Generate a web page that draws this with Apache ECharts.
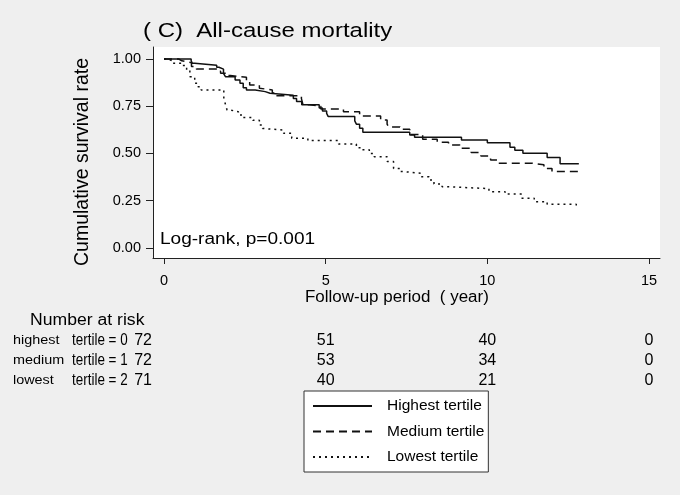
<!DOCTYPE html>
<html>
<head>
<meta charset="utf-8">
<script src="https://cdn.jsdelivr.net/npm/echarts@6/dist/echarts.min.js"></script>
<style>
html,body{margin:0;padding:0;background:#efefef;}
#chart{width:680px;height:495px;}
</style>
</head>
<body>
<div id="chart"></div>
<script>
// ---- data ----
var seriesNames = ['Highest tertile', 'Medium tertile', 'Lowest tertile'];
var highest = [[0,1.0],[0.84,0.989],[0.88,0.977],[0.95,0.967],[1.63,0.956],[1.7,0.946],[1.84,0.924],[1.9,0.906],[2.2,0.889],[2.35,0.871],[2.45,0.848],[2.55,0.836],[2.82,0.827],[3.13,0.818],[3.28,0.808],[4.0,0.79],[4.1,0.775],[4.26,0.757],[4.8,0.74],[4.9,0.725],[5.03,0.712],[5.08,0.695],[5.9,0.672],[5.95,0.655],[6.05,0.633],[6.15,0.612],[7.6,0.598],[7.75,0.586],[9.2,0.571],[10.0,0.557],[10.7,0.533],[10.85,0.517],[11.1,0.501],[11.85,0.478],[12.25,0.446],[12.83,0.446]];
var medium = [[0,1.0],[0.45,0.99],[0.55,0.98],[0.85,0.96],[1.0,0.946],[1.65,0.935],[1.75,0.924],[1.95,0.912],[2.05,0.903],[2.55,0.885],[2.65,0.862],[2.95,0.845],[3.0,0.836],[3.35,0.82],[3.45,0.805],[4.25,0.79],[4.3,0.757],[4.5,0.75],[4.85,0.735],[5.55,0.72],[6.05,0.698],[6.7,0.677],[6.9,0.655],[6.95,0.64],[7.3,0.628],[7.6,0.6],[8.0,0.575],[8.45,0.559],[8.8,0.545],[9.15,0.527],[9.5,0.505],[9.8,0.487],[10.1,0.465],[10.35,0.448],[11.4,0.44],[11.75,0.42],[12.0,0.404],[12.83,0.404]];
var lowest = [[0,1.0],[0.12,0.99],[0.25,0.977],[0.55,0.965],[0.7,0.94],[0.8,0.906],[0.95,0.871],[1.05,0.853],[1.15,0.836],[1.85,0.79],[1.9,0.76],[1.95,0.73],[2.05,0.72],[2.3,0.704],[2.45,0.69],[2.75,0.675],[2.95,0.65],[3.05,0.632],[3.1,0.624],[3.7,0.607],[3.95,0.58],[4.45,0.568],[5.4,0.55],[5.95,0.53],[6.1,0.519],[6.35,0.5],[6.5,0.483],[6.9,0.457],[7.1,0.42],[7.3,0.404],[7.4,0.395],[7.95,0.377],[8.2,0.36],[8.35,0.339],[8.6,0.324],[8.75,0.314],[10.05,0.298],[10.55,0.285],[11.05,0.263],[11.45,0.245],[11.85,0.231],[12.75,0.219],[12.83,0.219]];
var xTicks = [0, 5, 10, 15];
var yTicks = [0, 0.25, 0.5, 0.75, 1.0];
var riskTimes = [0, 5, 10, 15];
var riskRowLabels = ['highest', 'medium', 'lowest'];
var riskRowGroups = ['tertile = 0', 'tertile = 1', 'tertile = 2'];
var riskHighest = [72, 51, 40, 0];
var riskMedium = [72, 53, 34, 0];
var riskLowest = [71, 40, 21, 0];

var FONT = "'Liberation Sans', Arial, Helvetica, sans-serif";
var chart = echarts.init(document.getElementById('chart'), null, {renderer: 'canvas'});

function lineSeries(name, data, type) {
  return {
    name: name, type: 'line', step: 'end', data: data,
    symbol: 'none', showSymbol: false, silent: true, animation: false,
    itemStyle: {color: '#111'},
    lineStyle: {color: '#111', width: 1.5, type: type}
  };
}

var option = {
  backgroundColor: '#efefef',
  animation: false,
  grid: {left: 153, right: 20, top: 47, bottom: 237, show: true, backgroundColor: '#ffffff', borderWidth: 0, containLabel: false, outerBoundsMode: 'none'},
  xAxis: {
    type: 'value', min: -0.34, max: 15.34,
    axisLine: {show: true, onZero: false, lineStyle: {color: '#222', width: 1}},
    axisTick: {show: true, length: 6, lineStyle: {color: '#222'}, customValues: xTicks},
    axisLabel: {customValues: xTicks, fontSize: 14.5, fontFamily: FONT, color: '#000', margin: 15},
    splitLine: {show: false}
  },
  yAxis: {
    type: 'value', min: -0.053, max: 1.063,
    axisLine: {show: true, onZero: false, lineStyle: {color: '#222', width: 1}},
    axisTick: {show: true, length: 7, lineStyle: {color: '#222'}, customValues: yTicks},
    axisLabel: {customValues: yTicks, fontSize: 14.5, fontFamily: FONT, color: '#000', margin: 12,
      formatter: function (v) { return v.toFixed(2); }},
    splitLine: {show: false}
  },
  legend: {
    show: true, orient: 'vertical', left: 304, top: 391,
    padding: [7, 4, 7, 8], itemGap: 9.5, itemWidth: 59, itemHeight: 15,
    backgroundColor: '#ffffff', borderColor: '#333', borderWidth: 1, borderRadius: 0,
    itemStyle: {opacity: 0},
    textStyle: {fontSize: 15.5, fontFamily: FONT, color: '#000', padding: [0, 0, 0, 10]},
    data: seriesNames, selectedMode: false
  },
  series: [
    lineSeries(seriesNames[0], highest, 'solid'),
    lineSeries(seriesNames[1], medium, [8, 5]),
    lineSeries(seriesNames[2], lowest, [2, 4])
  ]
};
chart.setOption(option);

function txt(x, y, text, size, opts) {
  opts = opts || {};
  return {
    type: 'text', x: x, y: y, rotation: opts.rotation || 0, scaleX: opts.scaleX || 1, silent: true,
    style: {text: text, fontSize: size, fontFamily: FONT, fill: '#000',
      align: opts.align || 'left', textAlign: opts.align || 'left',
      verticalAlign: 'middle', textVerticalAlign: 'middle'}
  };
}

var g = [];
g.push(txt(143, 31, '( C)  All-cause mortality', 20.5, {scaleX: 1.17}));
g.push(txt(83, 162, 'Cumulative survival rate', 19.5, {rotation: Math.PI / 2, align: 'center'}));
g.push(txt(160, 240, 'Log-rank, p=0.001', 16, {scaleX: 1.19}));
g.push(txt(305, 298, 'Follow-up period  ( year)', 16, {scaleX: 1.06}));
g.push(txt(30, 321, 'Number at risk', 16, {scaleX: 1.1}));
var riskRows = [riskHighest, riskMedium, riskLowest];
var rowY = [341, 361, 381];
for (var r = 0; r < 3; r++) {
  g.push(txt(13, rowY[r], riskRowLabels[r], 12, {scaleX: 1.2}));
  g.push(txt(72, rowY[r], riskRowGroups[r], 16, {scaleX: 0.84}));
  for (var k = 0; k < riskTimes.length; k++) {
    var px = chart.convertToPixel({xAxisIndex: 0}, riskTimes[k]);
    if (k === 0) {
      g.push(txt(px - 12, rowY[r], String(riskRows[r][k]), 16, {align: 'right'}));
    } else {
      g.push(txt(px, rowY[r], String(riskRows[r][k]), 16, {align: 'center'}));
    }
  }
}
chart.setOption({graphic: {elements: g}});
</script>
</body>
</html>
